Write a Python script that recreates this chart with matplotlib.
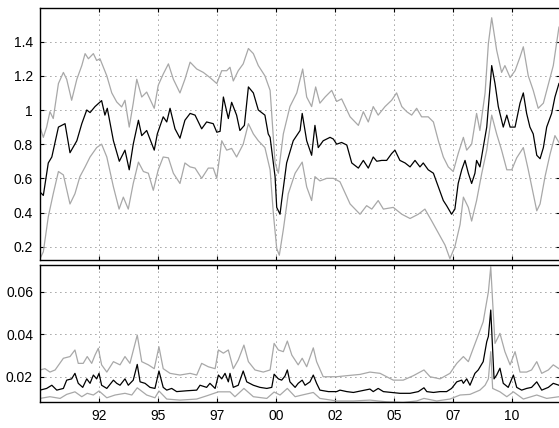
import matplotlib
matplotlib.use("Agg")
import matplotlib.pyplot as plt

# ---- top panel: estimate (black) with upper / lower bands (gray) ----
top_mid_t = [1990.00, 1990.14, 1990.35, 1990.50, 1990.78, 1991.06, 1991.27, 1991.56, 1991.77, 1991.98,
             1992.12, 1992.33, 1992.61, 1992.75, 1992.85, 1993.11, 1993.36, 1993.60, 1993.78, 1993.95,
             1994.17, 1994.31, 1994.52, 1994.84, 1994.97, 1995.22, 1995.37, 1995.51, 1995.72, 1995.93,
             1996.14, 1996.36, 1996.57, 1996.85, 1997.06, 1997.34, 1997.49, 1997.63, 1997.77, 1997.98,
             1998.12, 1998.33, 1998.47, 1998.66, 1998.83, 1999.04, 1999.25, 1999.53, 1999.67, 1999.75,
             1999.96, 2000.03, 2000.17, 2000.24, 2000.45, 2000.73, 2001.02, 2001.11, 2001.30, 2001.51,
             2001.65, 2001.79, 2002.00, 2002.29, 2002.43, 2002.57, 2002.78, 2003.00, 2003.21, 2003.49,
             2003.70, 2003.91, 2004.12, 2004.27, 2004.48, 2004.69, 2004.90, 2005.04, 2005.25, 2005.47,
             2005.68, 2005.89, 2006.10, 2006.24, 2006.45, 2006.67, 2006.88, 2007.09, 2007.23, 2007.44,
             2007.58, 2007.72, 2007.87, 2008.01, 2008.15, 2008.29, 2008.43, 2008.50, 2008.64, 2008.78,
             2008.93, 2009.07, 2009.14, 2009.28, 2009.42, 2009.63, 2009.78, 2009.92, 2010.13, 2010.34,
             2010.48, 2010.62, 2010.76, 2010.90, 2011.05, 2011.19, 2011.33, 2011.47, 2011.68, 2011.82,
             2011.99]
top_mid_v = [0.52, 0.50, 0.69, 0.725, 0.90, 0.92, 0.75, 0.82, 0.92, 1.00,
             0.985, 1.02, 1.055, 0.97, 1.01, 0.82, 0.70, 0.765, 0.65, 0.80,
             0.94, 0.85, 0.88, 0.765, 0.86, 0.96, 0.93, 1.01, 0.89, 0.835,
             0.94, 0.98, 0.97, 0.89, 0.93, 0.92, 0.87, 0.875, 1.076, 0.95,
             1.045, 0.97, 0.88, 0.91, 1.135, 1.10, 1.00, 0.97, 0.86, 0.84,
             0.61, 0.43, 0.39, 0.47, 0.69, 0.82, 0.88, 0.98, 0.82, 0.735,
             0.91, 0.78, 0.82, 0.84, 0.83, 0.80, 0.81, 0.795, 0.69, 0.66,
             0.705, 0.66, 0.725, 0.70, 0.705, 0.705, 0.745, 0.765, 0.705, 0.69,
             0.667, 0.705, 0.667, 0.69, 0.65, 0.63, 0.55, 0.47, 0.44, 0.39,
             0.42, 0.57, 0.65, 0.705, 0.63, 0.57, 0.63, 0.705, 0.667, 0.78,
             0.90, 1.135, 1.26, 1.155, 1.02, 0.90, 0.97, 0.90, 0.90, 1.04,
             1.10, 0.98, 0.90, 0.86, 0.735, 0.715, 0.78, 0.90, 0.98, 1.076,
             1.155]

top_hi_t = [1990.00, 1990.14, 1990.28, 1990.42, 1990.56, 1990.78, 1990.99, 1991.13, 1991.34, 1991.56,
            1991.77, 1991.91, 1992.05, 1992.26, 1992.40, 1992.54, 1992.83, 1993.04, 1993.25, 1993.46,
            1993.60, 1993.78, 1993.95, 1994.10, 1994.31, 1994.52, 1994.84, 1995.01, 1995.22, 1995.44,
            1995.65, 1995.93, 1996.14, 1996.36, 1996.64, 1996.92, 1997.20, 1997.49, 1997.70, 1997.91,
            1998.05, 1998.19, 1998.40, 1998.61, 1998.83, 1999.04, 1999.25, 1999.53, 1999.75, 1999.96,
            2000.10, 2000.31, 2000.59, 2000.88, 2001.13, 2001.30, 2001.51, 2001.68, 2001.86, 2002.08,
            2002.36, 2002.57, 2002.78, 2003.14, 2003.49, 2003.70, 2003.91, 2004.12, 2004.33, 2004.62,
            2004.90, 2005.11, 2005.33, 2005.54, 2005.75, 2005.96, 2006.17, 2006.45, 2006.67, 2006.88,
            2007.09, 2007.30, 2007.51, 2007.72, 2007.94, 2008.08, 2008.29, 2008.50, 2008.64, 2008.86,
            2009.00, 2009.14, 2009.35, 2009.56, 2009.70, 2009.92, 2010.13, 2010.34, 2010.48, 2010.69,
            2010.90, 2011.11, 2011.33, 2011.54, 2011.75, 2011.99]
top_hi_v = [0.90, 0.84, 0.90, 0.99, 0.95, 1.155, 1.22, 1.18, 1.057, 1.18,
            1.26, 1.33, 1.30, 1.33, 1.29, 1.30, 1.20, 1.10, 1.047, 1.018,
            1.057, 0.90, 1.04, 1.18, 1.076, 1.105, 1.01, 1.145, 1.21, 1.27,
            1.18, 1.10, 1.18, 1.28, 1.24, 1.22, 1.19, 1.155, 1.23, 1.23,
            1.25, 1.17, 1.23, 1.27, 1.36, 1.33, 1.26, 1.20, 1.115, 0.69,
            0.63, 0.86, 1.02, 1.10, 1.24, 1.076, 1.02, 1.135, 1.04, 1.076,
            1.115, 1.05, 1.065, 0.96, 0.91, 0.99, 0.93, 1.02, 0.97, 1.02,
            1.057, 1.10, 1.02, 0.99, 0.97, 1.01, 0.96, 0.96, 0.93, 0.82,
            0.725, 0.667, 0.64, 0.745, 0.84, 0.765, 0.80, 0.98, 0.88, 1.10,
            1.39, 1.54, 1.35, 1.22, 1.26, 1.19, 1.23, 1.31, 1.37, 1.20,
            1.115, 1.01, 1.04, 1.15, 1.26, 1.485]

top_lo_t = [1990.00, 1990.14, 1990.35, 1990.56, 1990.78, 1990.99, 1991.27, 1991.48, 1991.69, 1991.91,
            1992.12, 1992.40, 1992.61, 1992.83, 1993.11, 1993.35, 1993.53, 1993.74, 1993.95, 1994.17,
            1994.38, 1994.59, 1994.80, 1995.01, 1995.22, 1995.44, 1995.65, 1995.93, 1996.14, 1996.36,
            1996.57, 1996.85, 1997.13, 1997.34, 1997.49, 1997.70, 1997.91, 1998.12, 1998.33, 1998.61,
            1998.83, 1999.04, 1999.25, 1999.53, 1999.75, 1999.89, 2000.03, 2000.14, 2000.31, 2000.52,
            2000.81, 2001.11, 2001.30, 2001.51, 2001.65, 2001.86, 2002.15, 2002.43, 2002.71, 2003.14,
            2003.56, 2003.84, 2004.06, 2004.33, 2004.55, 2004.97, 2005.33, 2005.68, 2006.03, 2006.31,
            2006.60, 2006.88, 2007.16, 2007.37, 2007.58, 2007.80, 2007.94, 2008.15, 2008.29, 2008.50,
            2008.72, 2008.93, 2009.14, 2009.35, 2009.56, 2009.78, 2009.99, 2010.20, 2010.48, 2010.69,
            2010.90, 2011.05, 2011.19, 2011.40, 2011.61, 2011.82, 2011.99]
top_lo_v = [0.13, 0.17, 0.375, 0.51, 0.64, 0.62, 0.45, 0.51, 0.61, 0.667,
            0.725, 0.78, 0.80, 0.725, 0.55, 0.42, 0.49, 0.42, 0.57, 0.695,
            0.64, 0.63, 0.53, 0.65, 0.725, 0.72, 0.63, 0.57, 0.69, 0.667,
            0.66, 0.60, 0.66, 0.66, 0.60, 0.82, 0.765, 0.775, 0.725, 0.80,
            0.92, 0.86, 0.82, 0.78, 0.65, 0.39, 0.19, 0.15, 0.30, 0.51,
            0.63, 0.695, 0.55, 0.47, 0.61, 0.585, 0.60, 0.60, 0.58, 0.45,
            0.39, 0.44, 0.42, 0.47, 0.42, 0.43, 0.39, 0.365, 0.39, 0.42,
            0.35, 0.28, 0.21, 0.13, 0.20, 0.33, 0.49, 0.43, 0.35, 0.47,
            0.63, 0.765, 0.97, 0.86, 0.765, 0.65, 0.65, 0.72, 0.78, 0.65,
            0.51, 0.41, 0.45, 0.61, 0.74, 0.85, 0.81]

# ---- bottom panel ----
bot_mid_t = [1990.00, 1990.28, 1990.50, 1990.71, 1990.99, 1991.13, 1991.34, 1991.48, 1991.62, 1991.81,
             1991.98, 1992.12, 1992.26, 1992.40, 1992.50, 1992.61, 1992.83, 1993.11, 1993.25, 1993.39,
             1993.60, 1993.74, 1993.95, 1994.12, 1994.24, 1994.45, 1994.66, 1994.87, 1995.04, 1995.22,
             1995.37, 1995.58, 1995.79, 1996.22, 1996.64, 1996.78, 1997.06, 1997.20, 1997.42, 1997.56,
             1997.70, 1997.84, 1997.98, 1998.05, 1998.19, 1998.40, 1998.61, 1998.76, 1999.04, 1999.32,
             1999.61, 1999.82, 1999.92, 2000.10, 2000.24, 2000.38, 2000.48, 2000.59, 2000.81, 2000.94,
             2001.11, 2001.23, 2001.44, 2001.58, 2001.72, 2001.86, 2002.22, 2002.57, 2002.71, 2003.00,
             2003.28, 2003.63, 2003.98, 2004.12, 2004.33, 2004.55, 2004.90, 2005.25, 2005.68, 2006.03,
             2006.27, 2006.39, 2006.67, 2006.95, 2007.23, 2007.44, 2007.66, 2007.87, 2007.94, 2008.08,
             2008.22, 2008.43, 2008.57, 2008.78, 2008.93, 2009.00, 2009.10, 2009.17, 2009.24, 2009.35,
             2009.49, 2009.63, 2009.84, 2010.06, 2010.20, 2010.41, 2010.62, 2010.83, 2011.05, 2011.26,
             2011.54, 2011.75, 2011.99]
bot_mid_v = [0.0137, 0.0145, 0.0160, 0.0137, 0.0145, 0.0184, 0.0190, 0.0216, 0.0169, 0.0150,
             0.0190, 0.0169, 0.0208, 0.0190, 0.0216, 0.0160, 0.0145, 0.0184, 0.0169, 0.0160,
             0.0190, 0.0160, 0.0184, 0.0258, 0.0176, 0.0169, 0.0150, 0.0145, 0.0227, 0.0150,
             0.0137, 0.0145, 0.0130, 0.0134, 0.0137, 0.0160, 0.0150, 0.0169, 0.0145, 0.0208,
             0.0190, 0.0216, 0.0176, 0.0216, 0.0150, 0.0160, 0.0227, 0.0176, 0.0160, 0.0150,
             0.0145, 0.0150, 0.0212, 0.0190, 0.0184, 0.0203, 0.0232, 0.0176, 0.0150, 0.0169,
             0.0184, 0.0160, 0.0176, 0.0208, 0.0169, 0.0137, 0.0130, 0.0130, 0.0137, 0.0130,
             0.0126, 0.0134, 0.0142, 0.0130, 0.0145, 0.0130, 0.0126, 0.0122, 0.0122, 0.0130,
             0.0148, 0.0130, 0.0126, 0.0130, 0.0130, 0.0145, 0.0176, 0.0184, 0.0169, 0.0190,
             0.0160, 0.0216, 0.0232, 0.0271, 0.0365, 0.0390, 0.0514, 0.0350, 0.0190, 0.0208,
             0.0240, 0.0169, 0.0150, 0.0208, 0.0150, 0.0137, 0.0145, 0.0150, 0.0176, 0.0137,
             0.0150, 0.0169, 0.0160]

bot_hi_t = [1990.00, 1990.21, 1990.42, 1990.64, 1990.99, 1991.27, 1991.48, 1991.62, 1991.83, 1992.00,
            1992.19, 1992.33, 1992.47, 1992.61, 1992.83, 1993.11, 1993.39, 1993.60, 1993.81, 1994.12,
            1994.31, 1994.59, 1994.84, 1995.04, 1995.22, 1995.51, 1995.93, 1996.36, 1996.64, 1996.85,
            1997.13, 1997.42, 1997.56, 1997.77, 1997.98, 1998.19, 1998.40, 1998.64, 1998.83, 1999.11,
            1999.46, 1999.75, 1999.92, 2000.10, 2000.31, 2000.48, 2000.67, 2000.94, 2001.11, 2001.30,
            2001.58, 2001.72, 2002.00, 2002.57, 2003.00, 2003.56, 2003.98, 2004.41, 2004.97, 2005.39,
            2005.82, 2006.27, 2006.53, 2006.95, 2007.37, 2007.66, 2007.94, 2008.15, 2008.36, 2008.57,
            2008.78, 2009.00, 2009.10, 2009.18, 2009.28, 2009.49, 2009.70, 2009.92, 2010.13, 2010.34,
            2010.62, 2010.83, 2011.05, 2011.26, 2011.54, 2011.75, 2011.99]
bot_hi_v = [0.0232, 0.0238, 0.0222, 0.0232, 0.0287, 0.0295, 0.0326, 0.0263, 0.0263, 0.0295,
            0.0263, 0.0302, 0.0334, 0.0256, 0.0222, 0.0271, 0.0256, 0.0295, 0.0263, 0.0396,
            0.0271, 0.0256, 0.0238, 0.0341, 0.0238, 0.0216, 0.0208, 0.0216, 0.0208, 0.0263,
            0.0247, 0.0238, 0.0326, 0.0311, 0.0326, 0.0238, 0.0279, 0.0349, 0.0271, 0.0232,
            0.0222, 0.0232, 0.0357, 0.0326, 0.0318, 0.0368, 0.0302, 0.0256, 0.0287, 0.0247,
            0.0336, 0.0271, 0.0200, 0.0200, 0.0205, 0.0211, 0.0222, 0.0216, 0.0184, 0.0184,
            0.0205, 0.0232, 0.0200, 0.0190, 0.0216, 0.0263, 0.0295, 0.0271, 0.0334, 0.0396,
            0.0459, 0.0600, 0.0718, 0.0553, 0.0357, 0.0404, 0.0318, 0.0256, 0.0318, 0.0222,
            0.0222, 0.0232, 0.0271, 0.0216, 0.0232, 0.0256, 0.0238]

bot_lo_t = [1990.00, 1990.42, 1990.85, 1991.13, 1991.48, 1991.77, 1992.00, 1992.26, 1992.50, 1992.83,
            1993.18, 1993.60, 1993.89, 1994.12, 1994.52, 1994.87, 1995.04, 1995.37, 1995.93, 1996.64,
            1997.06, 1997.56, 1998.05, 1998.26, 1998.64, 1999.04, 1999.61, 1999.92, 2000.17, 2000.48,
            2000.81, 2001.11, 2001.58, 2001.86, 2002.57, 2003.28, 2003.98, 2004.69, 2005.39, 2005.96,
            2006.27, 2006.81, 2007.37, 2007.80, 2008.22, 2008.64, 2008.86, 2009.00, 2009.10, 2009.18,
            2009.49, 2009.78, 2010.06, 2010.48, 2011.05, 2011.47, 2011.99]
bot_lo_v = [0.0098, 0.0106, 0.0098, 0.0117, 0.0129, 0.0106, 0.0122, 0.0114, 0.0133, 0.0101,
            0.0114, 0.0122, 0.0114, 0.0148, 0.0114, 0.0101, 0.0133, 0.0095, 0.0090, 0.0095,
            0.0110, 0.0129, 0.0129, 0.0106, 0.0145, 0.0106, 0.0098, 0.0128, 0.0114, 0.0145,
            0.0106, 0.0114, 0.0126, 0.0098, 0.0086, 0.0086, 0.0090, 0.0082, 0.0079, 0.0086,
            0.0098, 0.0086, 0.0095, 0.0114, 0.0117, 0.0137, 0.0160, 0.0190, 0.0318, 0.0145,
            0.0129, 0.0106, 0.0129, 0.0095, 0.0114, 0.0098, 0.0106]

xtick_pos = [1992.5, 1995.0, 1997.5, 2000.0, 2002.5, 2005.0, 2007.5, 2010.0]
xtick_lab = ['92', '95', '97', '00', '02', '05', '07', '10']
top_yticks = [0.2, 0.4, 0.6, 0.8, 1.0, 1.2, 1.4]
top_ylab = ['0.2', '0.4', '0.6', '0.8', '1', '1.2', '1.4']
bot_yticks = [0.02, 0.04, 0.06]
bot_ylab = ['0.02', '0.04', '0.06']

plt.rcParams['font.family'] = ['Liberation Sans', 'DejaVu Sans']
plt.rcParams['font.size'] = 10

GRAY = '#a8a8a8'

fig = plt.figure(figsize=(5.59, 4.28), dpi=100)
ax1 = fig.add_axes([0.0716, 0.3925, 0.930, 0.5888])
ax2 = fig.add_axes([0.0716, 0.0607, 0.930, 0.3201])


def style(ax):
    ax.set_xlim(1990.0, 2012.03)
    ax.grid(True, linestyle=(0, (1, 5)), color='#404040', linewidth=0.6)
    ax.tick_params(direction='in', length=3, width=0.8, top=True, right=True,
                   labelsize=10, pad=5)
    for s in ax.spines.values():
        s.set_linewidth(1.0)
    ax.set_xticks(xtick_pos)


ax1.plot(top_hi_t, top_hi_v, color=GRAY, lw=0.9)
ax1.plot(top_lo_t, top_lo_v, color=GRAY, lw=0.9)
ax1.plot(top_mid_t, top_mid_v, color='black', lw=0.9)
style(ax1)
ax1.set_ylim(0.122, 1.597)
ax1.set_yticks(top_yticks)
ax1.set_yticklabels(top_ylab)
ax1.set_xticklabels([])

ax2.plot(bot_hi_t, bot_hi_v, color=GRAY, lw=0.9)
ax2.plot(bot_lo_t, bot_lo_v, color=GRAY, lw=0.9)
ax2.plot(bot_mid_t, bot_mid_v, color='black', lw=0.9)
style(ax2)
ax2.set_ylim(0.0081, 0.0726)
ax2.set_yticks(bot_yticks)
ax2.set_yticklabels(bot_ylab)
ax2.set_xticklabels(xtick_lab)

fig.savefig('out.png', dpi=100)
